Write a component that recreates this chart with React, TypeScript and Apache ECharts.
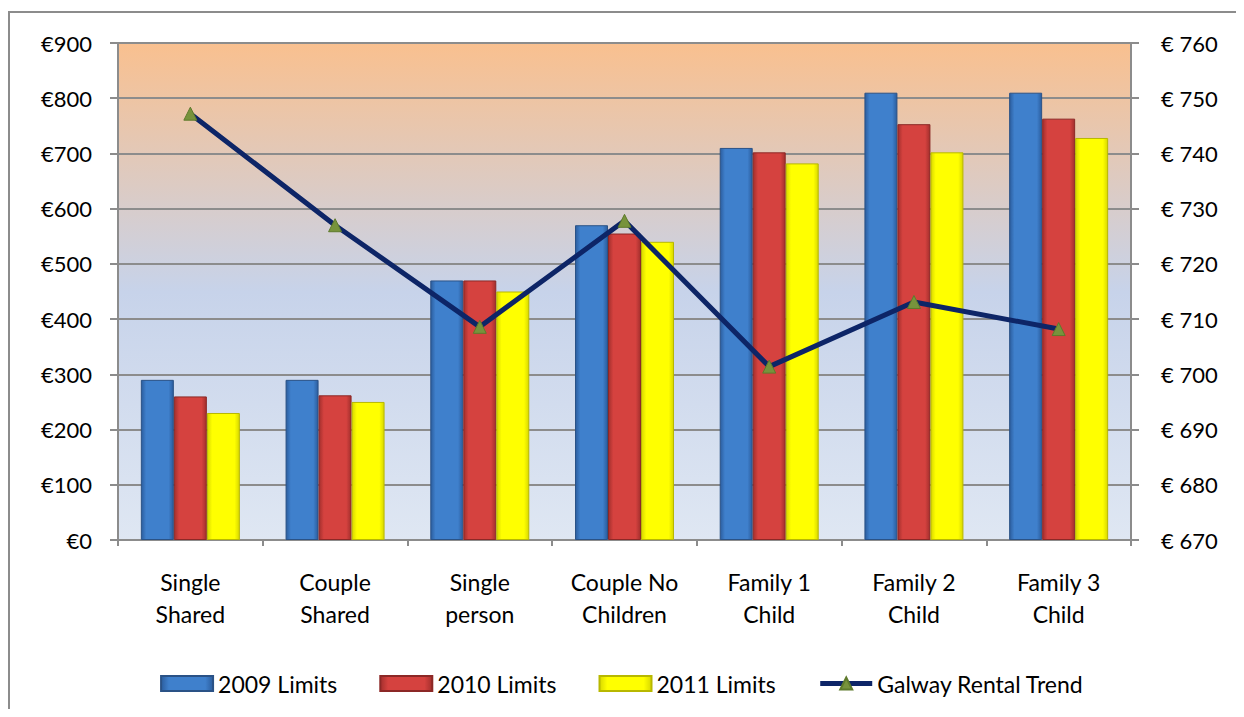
import React, { useEffect, useRef } from "react";
import * as echarts from "echarts";

const categories = ["Single\nShared", "Couple\nShared", "Single\nperson", "Couple No\nChildren", "Family 1\nChild", "Family 2\nChild", "Family 3\nChild"];
const limits2009 = [290, 290, 470, 570, 710, 810, 810];
const limits2010 = [260, 262, 470, 555, 702, 753, 763];
const limits2011 = [230, 250, 450, 540, 682, 702, 728];
const rentalTrend = [747.2, 727, 708.6, 727.8, 701.4, 713.1, 708.2];

const FONT = "Lato";

function barGrad(edge: string, mid: string) {
  return new echarts.graphic.LinearGradient(0, 0, 1, 0, [
    { offset: 0, color: edge },
    { offset: 0.15, color: mid },
    { offset: 0.85, color: mid },
    { offset: 1, color: edge },
  ]);
}

export default function App() {
  const ref = useRef<HTMLDivElement>(null);
  useEffect(() => {
    const chart = echarts.init(ref.current!, null, { renderer: "svg" });
    const barCommon = {
      type: "bar",
      barWidth: 33,
      barGap: "0%",
      yAxisIndex: 0,
    };
    chart.setOption({
      animation: false,
      textStyle: { fontFamily: FONT },
      graphic: [
        {
          type: "rect",
          shape: { x: 1, y: 4, width: 1260, height: 720 },
          style: { fill: "none", stroke: "#8c8c8c", lineWidth: 2 },
          z: -10,
        },
      ],
      grid: {
        left: 110,
        right: 105,
        top: 35,
        bottom: 169,
        show: true,
        borderWidth: 0,
        backgroundColor: new echarts.graphic.LinearGradient(0, 0, 0, 1, [
          { offset: 0, color: "#F9C08F" },
          { offset: 0.5, color: "#C7D3EA" },
          { offset: 1, color: "#DFE7F3" },
        ]),
      },
      legend: {
        bottom: 9,
        left: "center",
        itemGap: 42,
        textStyle: { fontSize: 23, color: "#000", fontFamily: FONT },
        data: [
          { name: "2009 Limits", icon: "rect" },
          { name: "2010 Limits", icon: "rect" },
          { name: "2011 Limits", icon: "rect" },
          { name: "Galway Rental Trend", lineStyle: { width: 5, color: "#0D2567" } },
        ],
        itemWidth: 52,
        itemHeight: 15,
      },
      xAxis: {
        type: "category",
        data: categories,
        axisLine: { lineStyle: { color: "#8c8c8c", width: 2 } },
        axisTick: { show: true, length: 6, lineStyle: { color: "#8c8c8c", width: 2 } },
        axisLabel: { fontSize: 23, color: "#000", lineHeight: 32, margin: 26, fontFamily: FONT },
        splitLine: { show: false },
      },
      yAxis: [
        {
          type: "value",
          min: 0,
          max: 900,
          interval: 100,
          axisLine: { show: true, lineStyle: { color: "#8c8c8c", width: 2 } },
          axisTick: { show: true, length: 8, lineStyle: { color: "#8c8c8c", width: 2 } },
          axisLabel: { formatter: (v: number) => "€" + v, fontSize: 22, color: "#000", margin: 26, fontFamily: FONT },
          splitLine: { lineStyle: { color: "#8c8c8c", width: 2 } },
        },
        {
          type: "value",
          min: 670,
          max: 760,
          interval: 10,
          position: "right",
          axisLine: { show: true, lineStyle: { color: "#8c8c8c", width: 2 } },
          axisTick: { show: true, length: 8, lineStyle: { color: "#8c8c8c", width: 2 } },
          axisLabel: { formatter: (v: number) => "€ " + v, fontSize: 22, color: "#000", margin: 30, fontFamily: FONT },
          splitLine: { show: false },
        },
      ],
      series: [
        {
          ...barCommon,
          name: "2009 Limits",
          data: limits2009,
          itemStyle: { color: barGrad("#2B5D9E", "#3F80CC"), borderColor: "#2A5286", borderWidth: 1 },
        },
        {
          ...barCommon,
          name: "2010 Limits",
          data: limits2010,
          itemStyle: { color: barGrad("#A32F2D", "#D5423F"), borderColor: "#8C2826", borderWidth: 1 },
        },
        {
          ...barCommon,
          name: "2011 Limits",
          data: limits2011,
          itemStyle: { color: barGrad("#D8D800", "#FFFF00"), borderColor: "#B8B800", borderWidth: 1 },
        },
        {
          type: "line",
          name: "Galway Rental Trend",
          yAxisIndex: 1,
          data: rentalTrend,
          symbol: "triangle",
          symbolSize: 13,
          lineStyle: { color: "#0D2567", width: 5 },
          itemStyle: { color: "#77933C", borderColor: "#5E7A2C", borderWidth: 1 },
          z: 5,
        },
      ],
    });
    return () => chart.dispose();
  }, []);
  return <div ref={ref} style={{ width: 1228, height: 701 }} />;
}
